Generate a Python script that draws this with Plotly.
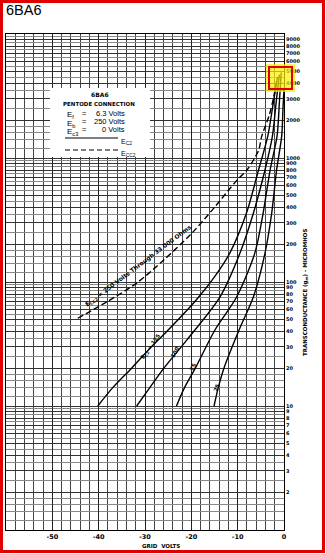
import plotly.graph_objects as go

# ---- data -------------------------------------------------------------
# Grid volts (Ec1) vs. transconductance gm (micromhos), 6BA6 pentode
v_125 = [-40.2, -37, -33, -29, -25, -18.9, -15, -11.7, -8.1, -5.5, -3.5, -2.3, -1.4]
gm_125 = [10, 14, 20, 29, 41, 72, 110, 171, 360, 800, 1500, 2800, 4500]

v_100 = [-31.8, -29, -26, -21, -13.8, -9.5, -6.6, -4.1, -2.5, -1.7, -1.0]
gm_100 = [10, 14, 20, 34, 76, 171, 360, 800, 1500, 2800, 4700]

v_75 = [-23.2, -21.5, -19.2, -14.9, -10.2, -6.3, -4.5, -3.0, -1.5, -1.0, -0.6]
gm_75 = [10, 14, 20, 41, 76, 171, 360, 800, 1500, 2800, 4900]

v_25 = [-15.1, -14.2, -13.0, -9.7, -6.6, -4.1, -2.65, -1.6, -0.5, -0.2, 0]
gm_25 = [10, 14, 20, 41, 76, 171, 360, 800, 1500, 2600, 3600]

v_cc2 = [-44.5, -38, -31.8, -26, -20, -15, -10.2, -8, -5.5, -4.8, -3.2, -2.3, -1.6]
gm_cc2 = [51, 70, 98, 150, 245, 400, 660, 800, 1150, 1500, 2200, 3000, 4200]

x_tick_vals = [-60, -50, -40, -30, -20, -10, 0]
x_tick_text = [" ", "-50", "-40", "-30", "-20", "-10", "0"]

y_tick_vals = [2, 3, 4, 5, 6, 7, 8, 9,
               10, 20, 30, 40, 50, 60, 70, 80, 90,
               100, 200, 300, 400, 500, 600, 700, 800, 900,
               1000, 2000, 3000, 4000, 5000, 6000, 7000, 8000, 9000]
y_tick_text = [str(v) for v in y_tick_vals]

# ---- page geometry (pixels) ---------------------------------------------
W, H = 326, 554
L, R, T, B = 6, 284, 34, 530


def px(x):
    return (x - L) / (R - L)


def py(y):
    return (B - y) / (B - T)


fig = go.Figure()

curve_style = dict(color="black", width=1.4, shape="spline", smoothing=0.8)
for vx, gy in [(v_125, gm_125), (v_100, gm_100), (v_75, gm_75), (v_25, gm_25)]:
    fig.add_trace(go.Scatter(x=vx, y=gy, mode="lines", line=curve_style,
                             hoverinfo="skip", showlegend=False))

fig.add_trace(go.Scatter(x=v_cc2, y=gm_cc2, mode="lines",
                         line=dict(color="black", width=1.4, dash="6px,3px",
                                   shape="spline", smoothing=0.8),
                         hoverinfo="skip", showlegend=False))

# minor grid positions for log paper
minor_y = []
for dec in [1, 10, 100, 1000]:
    for f in [1.2, 1.4, 1.6, 1.8, 2.5, 3.5, 4.5, 5.5, 6.5, 7.5, 8.5, 9.5]:
        minor_y.append(round(f * dec, 6))

fig.update_layout(
    width=W, height=H,
    margin=dict(l=L, r=W - R, t=T, b=H - B),
    paper_bgcolor="white", plot_bgcolor="white",
    showlegend=False,
    font=dict(family="Liberation Sans, Arial, sans-serif", color="black"),
    xaxis=dict(
        range=[-60, 0], tickvals=x_tick_vals, ticktext=x_tick_text,
        showgrid=True, gridcolor="#222", gridwidth=1,
        minor=dict(dtick=2, showgrid=True, gridcolor="#444", gridwidth=0.8),
        showline=True, linecolor="black", linewidth=1, mirror=True,
        ticks="", zeroline=False,
        tickfont=dict(size=6.5, family="DejaVu Sans, sans-serif", weight="bold"),
    ),
    yaxis=dict(
        type="log", range=[0, 4], side="right",
        tickvals=y_tick_vals, ticktext=y_tick_text,
        showgrid=True, gridcolor="#333", gridwidth=0.9,
        minor=dict(tickvals=minor_y, showgrid=True, gridcolor="#888", gridwidth=0.6),
        showline=True, linecolor="black", linewidth=1, mirror=True,
        ticks="", zeroline=False,
        tickfont=dict(size=5, family="DejaVu Sans, sans-serif", weight="bold"),
    ),
)

shapes = []
# white panel holding the condition notes
shapes.append(dict(type="rect", xref="paper", yref="paper", layer="above",
                   x0=px(50), x1=px(150), y0=py(157), y1=py(88),
                   fillcolor="white", line=dict(width=0)))
# key lines inside the panel
shapes.append(dict(type="line", xref="paper", yref="paper", layer="above",
                   x0=px(65), x1=px(118), y0=py(138), y1=py(138),
                   line=dict(color="black", width=1.2)))
shapes.append(dict(type="line", xref="paper", yref="paper", layer="above",
                   x0=px(65), x1=px(118), y0=py(150), y1=py(150),
                   line=dict(color="black", width=1.2, dash="5px,3px")))
# highlight box where the curves meet
shapes.append(dict(type="rect", xref="paper", yref="paper", layer="above",
                   x0=px(266), x1=px(295), y0=py(92), y1=py(64),
                   fillcolor="rgba(255,240,0,0.7)", line=dict(width=0)))
shapes.append(dict(type="rect", xref="paper", yref="paper", layer="above",
                   x0=px(269), x1=px(292), y0=py(89), y1=py(67),
                   fillcolor="rgba(0,0,0,0)", line=dict(color="#e00000", width=2)))
# red page frame
shapes.append(dict(type="rect", xref="paper", yref="paper", layer="above",
                   x0=px(1.5), x1=px(323.5), y0=py(551.5), y1=py(1.5),
                   fillcolor="rgba(0,0,0,0)", line=dict(color="#e00000", width=3)))
fig.update_layout(shapes=shapes)


def note(x, y, text, size, angle=0, xanchor="center", bold=True,
         family="DejaVu Sans, sans-serif", yanchor="middle"):
    fig.add_annotation(xref="paper", yref="paper", x=px(x), y=py(y), text=text,
                       showarrow=False, textangle=angle, xanchor=xanchor, yanchor=yanchor,
                       font=dict(size=size, family=family, color="black",
                                 weight="bold" if bold else "normal"))


sans = "Liberation Sans, Arial, sans-serif"
note(4, 10, "6BA6", 14.5, xanchor="left", bold=False, family=sans)

# condition notes
note(100, 94, "6BA6", 6)
note(99, 104, "PENTODE CONNECTION", 5.5)
for yy, sym, val in [(113, "f", "6.3 Volts"), (121, "b", "250 Volts"), (129, "c3", "0 Volts")]:
    note(65, yy - 4.5, "E<sub>" + sym + "</sub>", 8, xanchor="left", bold=False,
         family=sans, yanchor="top")
    note(84, yy, "=", 7.5, bold=False, family=sans)
    note(127, yy, val, 7.5, xanchor="right", bold=False, family=sans)
note(119, 136, "E<sub>C2</sub>", 7, xanchor="left", bold=False, family=sans, yanchor="top")
note(119, 148, "E<sub>CC2</sub>", 7, xanchor="left", bold=False, family=sans, yanchor="top")

# curve labels
note(138, 266, "E<sub>CC2</sub> = 250 Volts Through 33 000 Ohms", 6, angle=-37)
note(150, 347, "E<sub>C2</sub> = 125", 5.5, angle=-55)
note(175, 352, "100", 5.5, angle=-60)
note(193, 367, "75", 5.5, angle=-65)
note(216.5, 388, "25", 5.5, angle=-70)

# axis titles
note(161, 546, "GRID  VOLTS", 5.5)
note(305, 293, "TRANSCONDUCTANCE (g<sub>m</sub>) - MICROMHOS", 5.5, angle=-90)

fig.write_html("out.html")
